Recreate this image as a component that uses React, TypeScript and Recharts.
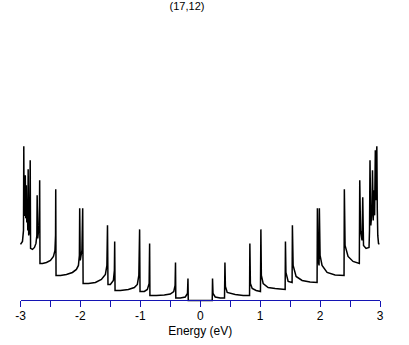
import React from 'react';
import { LineChart, Line, XAxis, YAxis, Label } from 'recharts';

// Density of states (energy in eV, DOS in arbitrary units)
const valenceEnergy = [
  -3.0, -2.967, -2.95, -2.945, -2.94, -2.928, -2.92, -2.912, -2.903, -2.895, -2.887, -2.878, -2.872, -2.863,
  -2.847, -2.838, -2.832, -2.8, -2.767, -2.742, -2.727, -2.722, -2.712, -2.69, -2.683, -2.68, -2.675,
  -2.633, -2.567, -2.5, -2.45, -2.425, -2.415, -2.412, -2.407,
  -2.333, -2.233, -2.133, -2.067, -2.033, -2.017, -2.012, -2.003, -1.975, -1.962, -1.955,
  -1.867, -1.75, -1.65, -1.583, -1.558, -1.548, -1.54,
  -1.5, -1.45, -1.433, -1.428, -1.422,
  -1.333, -1.2, -1.1, -1.05, -1.025, -1.012, -1.005,
  -0.933, -0.883, -0.853, -0.845, -0.84,
  -0.733, -0.6, -0.5, -0.442, -0.42, -0.413, -0.408,
  -0.333, -0.25, -0.213, -0.205, -0.2,
];
const valenceDos = [
  56, 59, 70, 154, 85, 85, 125, 82, 115, 78, 100, 70, 131, 65,
  72, 140, 52, 51, 53, 57, 65, 105, 62, 75, 95, 120, 37,
  37, 38, 40, 44, 50, 65, 111, 25,
  25, 26, 28, 31, 35, 45, 92, 40, 50, 92, 17,
  17, 18, 21, 26, 35, 75, 16,
  16, 20, 30, 59, 10,
  10, 11, 13, 16, 25, 71, 9,
  9, 11, 17, 57, 5,
  5, 5.5, 6.5, 9, 15, 38, 2.5,
  2.5, 3.5, 7, 22, 0,
];
const conductionEnergy = [
  0.2, 0.205, 0.213, 0.25, 0.333, 0.405, 0.412, 0.42, 0.45, 0.583, 0.717,
  0.823, 0.828, 0.837, 0.867, 0.933, 1.005, 1.012, 1.02, 1.05, 1.133, 1.25, 1.333,
  1.417, 1.422, 1.43, 1.467, 1.533, 1.538, 1.55, 1.6, 1.7, 1.833,
  1.95, 1.955, 1.967, 1.983, 1.988, 2.0, 2.033, 2.117, 2.25,
  2.4, 2.405, 2.417, 2.467, 2.55, 2.655, 2.662, 2.675, 2.7, 2.712, 2.725, 2.767,
  2.817, 2.825, 2.833, 2.847, 2.867, 2.875, 2.887, 2.9, 2.91, 2.922, 2.93, 2.938,
  2.947, 2.955, 2.963, 2.975, 2.988,
];
const conductionDos = [
  0, 22, 7, 3.5, 2.5, 2.5, 38, 14, 8, 6, 5,
  5, 57, 17, 12, 10, 9, 71, 25, 17, 13, 12, 11.5,
  11, 59, 28, 19, 18, 75, 35, 24, 20, 18.5,
  18, 92, 40, 35, 92, 45, 35, 28, 25.5,
  25, 111, 55, 44, 39, 37, 120, 70, 60, 103, 55, 52,
  53, 70, 140, 75, 90, 130, 80, 110, 85, 150, 100, 140,
  154, 90, 65, 57, 56,
];
const tickValues = [-3, -2.5, -2, -1.5, -1, -0.5, 0, 0.5, 1, 1.5, 2, 2.5, 3];
const titleText = '(17,12)';
const xLabel = 'Energy (eV)';

const data = [
  ...valenceEnergy.map((e, i) => ({ e, dos: valenceDos[i] })),
  ...conductionEnergy.map((e, i) => ({ e, dos: conductionDos[i] })),
];

const FONT = '"Liberation Sans", "DejaVu Sans", sans-serif';
const AXIS_BLUE = '#1414b4';

export default function App() {
  return (
    <div style={{ position: 'absolute', left: 0, top: 0, width: 409, height: 345, background: '#fff', fontFamily: FONT }}>
      <div
        style={{
          position: 'absolute',
          left: 0,
          top: 0,
          width: 374,
          textAlign: 'center',
          fontSize: 11,
          lineHeight: '12px',
          color: '#000',
          fontFamily: FONT,
        }}
      >
        {titleText}
      </div>
      <LineChart width={409} height={345} data={data} margin={{ top: 0, right: 29, bottom: 4.5, left: 20.5 }}>
        <YAxis hide domain={[0, 300]} type="number" />
        <XAxis
          dataKey="e"
          type="number"
          domain={[-3, 3]}
          ticks={tickValues}
          interval={0}
          tickFormatter={(v: number) => (Number.isInteger(v) ? String(v) : '')}
          stroke={AXIS_BLUE}
          axisLine={{ stroke: AXIS_BLUE, strokeWidth: 1, shapeRendering: 'crispEdges' }}
          tickLine={{ stroke: AXIS_BLUE, strokeWidth: 1, shapeRendering: 'crispEdges' }}
          tickSize={6}
          tickMargin={5}
          height={40}
          tick={{ fill: '#000', fontSize: 12, fontFamily: FONT }}
        >
          <Label value={xLabel} position="insideBottom" offset={6} fill="#000" fontSize={12} fontFamily={FONT} />
        </XAxis>
        <Line
          type="linear"
          dataKey="dos"
          stroke="#000"
          strokeWidth={1.5}
          dot={false}
          isAnimationActive={false}
        />
      </LineChart>
    </div>
  );
}
